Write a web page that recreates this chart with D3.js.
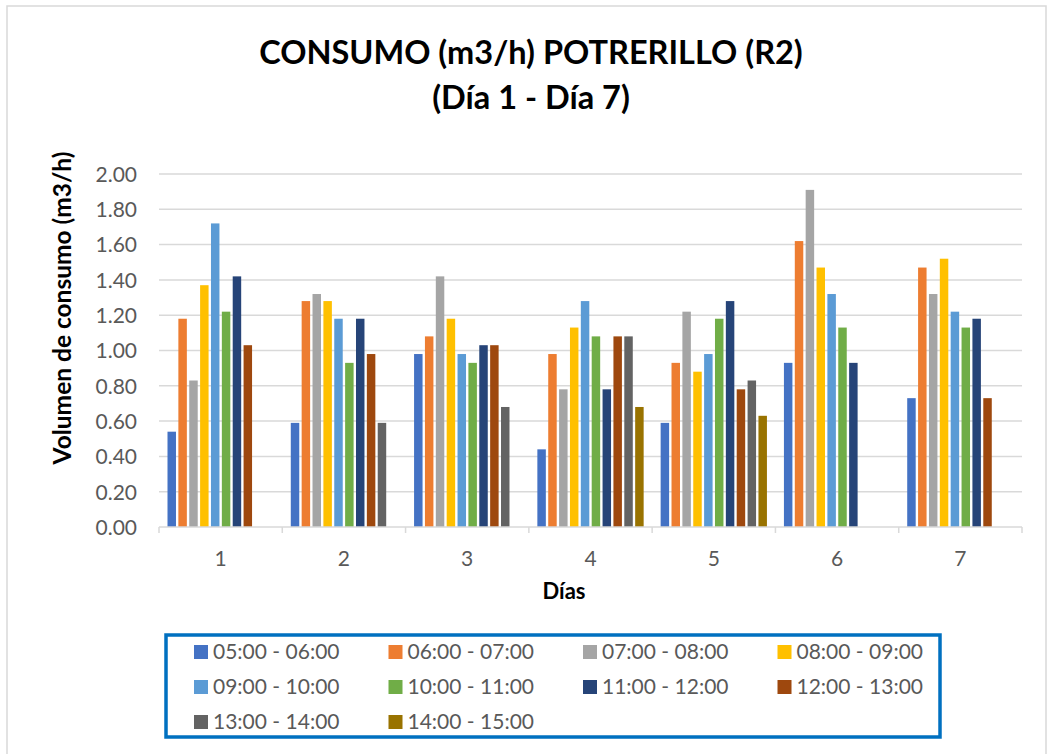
<!DOCTYPE html>
<html>
<head>
<meta charset="utf-8">
<script src="https://cdn.jsdelivr.net/npm/d3@7"></script>
<style>
  html, body { margin: 0; padding: 0; background: #ffffff; }
  svg { display: block; }
  text { font-family: Lato, "Open Sans", sans-serif; }
</style>
</head>
<body>
<svg id="chart" width="1051" height="754"></svg>
<script>
// Days on the x axis
const days = ["1", "2", "3", "4", "5", "6", "7"];

// Hourly time slots (one series each)
const slots = [
  "05:00 - 06:00", "06:00 - 07:00", "07:00 - 08:00", "08:00 - 09:00",
  "09:00 - 10:00", "10:00 - 11:00", "11:00 - 12:00", "12:00 - 13:00",
  "13:00 - 14:00", "14:00 - 15:00"
];

// Consumption (m3/h) per slot, day 1..7 (null = no reading)
const s0506 = [0.54, 0.59, 0.98, 0.44, 0.59, 0.93, 0.73];
const s0607 = [1.18, 1.28, 1.08, 0.98, 0.93, 1.62, 1.47];
const s0708 = [0.83, 1.32, 1.42, 0.78, 1.22, 1.91, 1.32];
const s0809 = [1.37, 1.28, 1.18, 1.13, 0.88, 1.47, 1.52];
const s0910 = [1.72, 1.18, 0.98, 1.28, 0.98, 1.32, 1.22];
const s1011 = [1.22, 0.93, 0.93, 1.08, 1.18, 1.13, 1.13];
const s1112 = [1.42, 1.18, 1.03, 0.78, 1.28, 0.93, 1.18];
const s1213 = [1.03, 0.98, 1.03, 1.08, 0.78, null, 0.73];
const s1314 = [null, 0.59, 0.68, 1.08, 0.83, null, null];
const s1415 = [null, null, null, 0.68, 0.63, null, null];

// Y axis tick values
const yTicks = [0, 0.2, 0.4, 0.6, 0.8, 1.0, 1.2, 1.4, 1.6, 1.8, 2.0];

const seriesValues = [s0506, s0607, s0708, s0809, s0910, s1011, s1112, s1213, s1314, s1415];
const colors = ["#4472C4", "#ED7D31", "#A5A5A5", "#FFC000", "#5B9BD5",
                "#70AD47", "#264478", "#9E480E", "#636363", "#997300"];

const svg = d3.select("#chart");
const plot = { left: 159, right: 1022, top: 174, bottom: 527 };

// Chart frame
svg.append("path")
  .attr("d", `M7,760 L7,6 L1046,6 L1046,760`)
  .attr("fill", "none").attr("stroke", "#d9d9d9").attr("stroke-width", 1.5);

// Title
const title = svg.append("text")
  .attr("text-anchor", "middle")
  .attr("font-weight", "bold").attr("font-size", 32.5).attr("fill", "#000");
title.append("tspan").attr("x", 531).attr("y", 64).text("CONSUMO (m3/h) POTRERILLO (R2)");
title.append("tspan").attr("x", 531).attr("y", 109).text("(Día 1 - Día 7)");

// Scales
const x0 = d3.scaleBand().domain(days).range([plot.left, plot.right]).padding(0);
const x1 = d3.scaleBand().domain(d3.range(slots.length))
  .range([8.5, x0.bandwidth() - 8.5]).paddingInner(0.22).paddingOuter(0);
const y = d3.scaleLinear().domain([0, 2]).range([plot.bottom, plot.top]);
const color = d3.scaleOrdinal().domain(d3.range(slots.length)).range(colors);

// Gridlines
svg.append("g").selectAll("line").data(yTicks.filter(d => d > 0)).join("line")
  .attr("x1", plot.left).attr("x2", plot.right)
  .attr("y1", d => y(d)).attr("y2", d => y(d))
  .attr("stroke", "#d9d9d9").attr("stroke-width", 1.5);

// Y axis labels
const yAxis = d3.axisLeft(y).tickValues(yTicks).tickFormat(d3.format(".2f")).tickSize(0).tickPadding(0);
const gy = svg.append("g").attr("transform", `translate(137,0)`).call(yAxis);
gy.select(".domain").remove();
gy.selectAll("text").attr("font-size", 21).attr("fill", "#595959")
  .attr("font-family", "Lato, sans-serif").attr("dy", "0.35em");

// Bars
const flat = [];
seriesValues.forEach((vals, si) => {
  vals.forEach((v, di) => { if (v != null) flat.push({ si, day: days[di], v }); });
});
svg.append("g").selectAll("rect").data(flat).join("rect")
  .attr("x", d => x0(d.day) + x1(d.si))
  .attr("width", x1.bandwidth())
  .attr("y", d => y(d.v))
  .attr("height", d => y(0) - y(d.v))
  .attr("fill", d => color(d.si));

// X axis line with category boundary ticks
const gx = svg.append("g").attr("transform", `translate(0,${plot.bottom})`);
gx.append("line").attr("x1", plot.left).attr("x2", plot.right)
  .attr("stroke", "#d9d9d9").attr("stroke-width", 1.5);
const bounds = days.map(d => x0(d)).concat([x0(days[days.length - 1]) + x0.bandwidth()]);
gx.selectAll("line.tk").data(bounds).join("line").attr("class", "tk")
  .attr("x1", d => d).attr("x2", d => d).attr("y1", 0).attr("y2", 6)
  .attr("stroke", "#d9d9d9").attr("stroke-width", 1.5);
gx.selectAll("text").data(days).join("text")
  .attr("x", d => x0(d) + x0.bandwidth() / 2).attr("y", 39)
  .attr("text-anchor", "middle").attr("font-size", 21).attr("fill", "#595959").text(d => d);

// Axis titles
svg.append("text").attr("x", 564).attr("y", 599).attr("text-anchor", "middle")
  .attr("font-weight", "bold").attr("font-size", 22).attr("fill", "#000").text("Días");
svg.append("text").attr("transform", "translate(61,308) rotate(-90)")
  .attr("text-anchor", "middle").attr("dominant-baseline", "central")
  .attr("font-weight", "bold").attr("font-size", 24.5).attr("fill", "#000")
  .text("Volumen de consumo (m3/h)");

// Legend
svg.append("rect").attr("x", 166).attr("y", 635).attr("width", 774).attr("height", 102)
  .attr("fill", "none").attr("stroke", "#0070C0").attr("stroke-width", 3.5);
const legend = svg.append("g").selectAll("g").data(slots).join("g")
  .attr("transform", (d, i) => `translate(${194 + (i % 4) * 194.5},${652 + Math.floor(i / 4) * 35})`);
legend.append("rect").attr("x", 0).attr("y", -7).attr("width", 14).attr("height", 14)
  .attr("fill", (d, i) => color(i));
legend.append("text").attr("x", 19).attr("y", 0).attr("dy", "0.35em")
  .attr("font-size", 21).attr("fill", "#595959").text(d => d);
</script>
</body>
</html>
